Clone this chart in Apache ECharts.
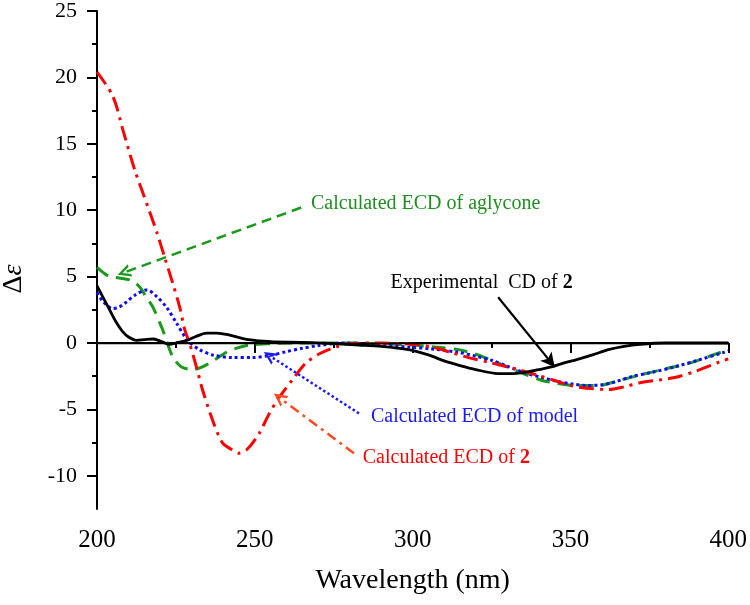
<!DOCTYPE html>
<html>
<head>
<meta charset="utf-8">
<script src="https://cdn.jsdelivr.net/npm/echarts@6/dist/echarts.min.js"></script>
<style>
  html, body { margin: 0; padding: 0; background: #fff; }
  #chart { width: 750px; height: 605px; }
</style>
</head>
<body>
<div id="chart"></div>
<script>
const serif = '"Liberation Serif", "Times New Roman", serif'

// wavelength (nm), delta epsilon
const experimental = [
  [200, 4.3], [202, 3.4], [204, 2.5], [206, 1.6], [208, 0.9], [210, 0.45], [212.6, 0.2],
  [215, 0.25], [217.7, 0.3], [220, 0.15], [223, -0.1], [225, 0], [228.4, 0.2], [231, 0.45],
  [234.7, 0.75], [238, 0.75], [242, 0.6], [248, 0.25], [255, 0.1], [265, 0.05], [275, -0.05],
  [283, -0.15], [290, -0.25], [298.7, -0.5], [305, -0.9], [310, -1.35], [315, -1.7], [320, -2.0],
  [327, -2.3], [332, -2.3], [336, -2.2], [340, -2.0], [344, -1.8], [348, -1.5], [352, -1.25],
  [357, -0.9], [362, -0.5], [367, -0.25], [372, -0.1], [380, 0], [390, 0], [400, 0]
]
const calcCompound = [
  [200, 20.4], [205, 18.6], [208.5, 15.8], [212, 13.0], [215, 11.0], [219, 8.3],
  [221.5, 6.4], [224, 4.5], [226.2, 2.7], [227.8, 1.0], [229.3, 0], [231.5, -1.8], [233.4, -3.5],
  [236.6, -5.8], [239.7, -7.5], [242.5, -8.0], [245, -8.3], [247.6, -8.0], [251.4, -6.8],
  [254.6, -5.3], [257.7, -4.1], [261.8, -2.8], [266.2, -1.5], [271, -0.75], [275.7, -0.3],
  [280, -0.05], [290, 0], [300, -0.1], [306, -0.3], [312, -0.7], [317.7, -1.1], [325, -1.5],
  [333.4, -2.0], [340, -2.45], [346, -2.9], [350, -3.2], [355, -3.4], [362, -3.5], [367, -3.3],
  [372, -3.0], [383, -2.6], [390, -2.1], [397.5, -1.4], [400, -1.2]
]
const calcModel = [
  [200, 3.8], [202, 3.1], [205, 2.6], [207, 2.7], [209.4, 3.1], [212, 3.6], [215.8, 4.0],
  [218.9, 3.5], [222, 2.7], [225.2, 1.5], [228.7, 0.2], [232.5, -0.5], [236.6, -0.9], [243, -1.1],
  [249, -1.1], [255.5, -0.9], [260, -0.65], [265, -0.4], [270, -0.2], [277.6, 0], [288, -0.1],
  [298.7, -0.3], [306, -0.45], [314.5, -0.7], [320, -1.0], [325, -1.3], [330, -1.75],
  [335.6, -2.25], [341, -2.6], [346, -2.9], [351, -3.1], [355, -3.2], [360, -3.15], [364, -2.95],
  [369, -2.55], [376, -2.2], [383, -1.8], [391, -1.25], [398.7, -0.7], [400, -0.6]
]
const calcAglycone = [
  [200, 5.7], [202, 5.3], [204, 5.0], [207, 4.9], [211, 4.7], [213.6, 4.2], [215.5, 3.5],
  [217.7, 2.7], [220.8, 1.0], [224, -1.05], [226.8, -1.8], [230.3, -2.0], [233.4, -1.8],
  [237, -1.3], [241, -0.7], [244, -0.4], [248.3, -0.15], [255, -0.05], [262, 0], [280, 0],
  [290, -0.05], [300, -0.15], [307, -0.3], [314.5, -0.5], [320, -0.85], [325, -1.3], [330, -1.8],
  [335, -2.3], [340.7, -2.8], [346, -3.05], [351.4, -3.2], [358.7, -3.2], [365, -2.85],
  [372.2, -2.4], [380, -1.95], [388, -1.5], [394, -1.0], [400, -0.5]
]

const yMajor = [-10, -5, 0, 5, 10, 15, 20, 25]
const yMinor = [-7.5, -2.5, 2.5, 7.5, 12.5, 17.5, 22.5]

// annotation arrows: [from, to] in data coords
const arrowAglycone = [[264.7, 10.2], [208.5, 5.3]]
const arrowModel = [[283, -5.3], [254.6, -0.95]]
const arrowCompound = [[281.4, -8.3], [257.7, -4.1]]
const arrowExp = [[327.1, 3.45], [345, -1.8]]

// annotation texts: left edge, vertical centre
const labelAglycone = [267.8, 10.5]
const labelExp = [293, 4.5]
const labelModel = [286.8, -5.55]
const labelCompound = [284.2, -8.65]

const openHead = 'path://M0,10 L5,0 L10,10 L8,10 L5,4 L2,10 Z'

const arrow = (pts, color, type, width, head) => ({
  data: [[
    { coord: pts[0], symbol: 'none' },
    { coord: pts[1], symbol: head, symbolSize: [13, 13] }
  ]],
  lineStyle: { color, type, width },
  label: { show: false }
})

const note = (pos, text, color) => ({
  coord: pos,
  symbol: 'circle',
  symbolSize: 0,
  label: {
    show: true,
    position: 'right',
    distance: 0,
    formatter: text,
    rich: {
      a: { fontFamily: serif, fontSize: 20, color },
      b: { fontFamily: serif, fontSize: 20, color, fontWeight: 'bold' }
    }
  }
})

const chart = echarts.init(document.getElementById('chart'))

const axisBlack = { lineStyle: { color: '#000', width: 2 } }

chart.setOption({
  animation: false,
  backgroundColor: '#fff',
  grid: { left: 97, right: 19, top: 11, bottom: 96, containLabel: false },
  xAxis: {
    type: 'value',
    min: 200,
    max: 400,
    interval: 50,
    axisLine: axisBlack,
    axisTick: { show: true, inside: false, length: 10, lineStyle: { color: '#000', width: 2 } },
    minorTick: { show: true, splitNumber: 2, length: 5, lineStyle: { color: '#000', width: 2 } },
    splitLine: { show: false },
    axisLabel: { fontFamily: serif, fontSize: 25, color: '#000', margin: 19 },
    name: 'Wavelength (nm)',
    nameLocation: 'middle',
    nameGap: 58,
    nameTextStyle: { fontFamily: serif, fontSize: 28, color: '#000' }
  },
  yAxis: [{
    type: 'value',
    min: -12.5,
    max: 25,
    interval: 2.5,
    axisLine: axisBlack,
    axisTick: { show: true, customValues: yMajor, length: 10, lineStyle: { color: '#000', width: 2 } },
    axisLabel: { customValues: yMajor, fontFamily: serif, fontSize: 22, color: '#000', margin: 20 },
    splitLine: { show: false }
  }, {
    type: 'value',
    min: -12.5,
    max: 25,
    interval: 2.5,
    position: 'left',
    axisLine: { show: false },
    axisTick: { show: true, customValues: yMinor, length: 5, lineStyle: { color: '#000', width: 2 } },
    axisLabel: { show: false },
    splitLine: { show: false }
  }],
  graphic: [{
    type: 'text',
    x: 14,
    y: 279,
    rotation: Math.PI / 2,
    style: {
      text: '{d|Δ}{e|ε}',
      align: 'center',
      verticalAlign: 'middle',
      rich: {
        d: { fontFamily: serif, fontSize: 28, fill: '#000' },
        e: { fontFamily: serif, fontSize: 28, fill: '#000', fontStyle: 'italic' }
      }
    }
  }],
  series: [
    {
      name: 'Calculated ECD of aglycone',
      type: 'line',
      data: calcAglycone,
      smooth: 0.3,
      showSymbol: false,
      lineStyle: { color: '#1a9a1a', width: 3, type: [14, 8] },
      markLine: { silent: true, ...arrow(arrowAglycone, '#1a9a1a', [10, 6], 2.5, openHead) },
      markPoint: { silent: true, data: [note(labelAglycone, '{a|Calculated ECD of aglycone}', '#1f8f1f')] }
    },
    {
      name: 'Calculated ECD of model',
      type: 'line',
      data: calcModel,
      smooth: 0.3,
      showSymbol: false,
      lineStyle: { color: '#0a0aff', width: 3, type: 'dotted' },
      markLine: { silent: true, ...arrow(arrowModel, '#1a1aff', 'dotted', 2.5, openHead) },
      markPoint: { silent: true, data: [note(labelModel, '{a|Calculated ECD of model}', '#1a1aff')] }
    },
    {
      name: 'Calculated ECD of 2',
      type: 'line',
      data: calcCompound,
      smooth: 0.3,
      showSymbol: false,
      lineStyle: { color: '#ff0000', width: 3, type: [15, 6, 3, 6] },
      markLine: { silent: true, ...arrow(arrowCompound, '#ff4a1f', [10, 5, 3, 5], 2.5, openHead) },
      markPoint: { silent: true, data: [note(labelCompound, '{a|Calculated ECD of }{b|2}', '#ff0000')] }
    },
    {
      name: 'Experimental CD of 2',
      type: 'line',
      data: experimental,
      smooth: 0.3,
      showSymbol: false,
      z: 3,
      lineStyle: { color: '#000', width: 2.8 },
      markLine: {
        silent: true,
        symbol: 'none',
        label: { show: false },
        data: [
          [{ coord: [200, 0], lineStyle: { color: '#000', width: 1.4, type: 'solid' } }, { coord: [400, 0] }],
          [
            { coord: arrowExp[0], symbol: 'none', lineStyle: { color: '#000', width: 2.2, type: 'solid' } },
            { coord: arrowExp[1], symbol: 'arrow', symbolSize: [11, 14] }
          ]
        ]
      },
      markPoint: { silent: true, data: [note(labelExp, '{a|Experimental  CD of }{b|2}', '#000')] }
    }
  ]
})
</script>
</body>
</html>
